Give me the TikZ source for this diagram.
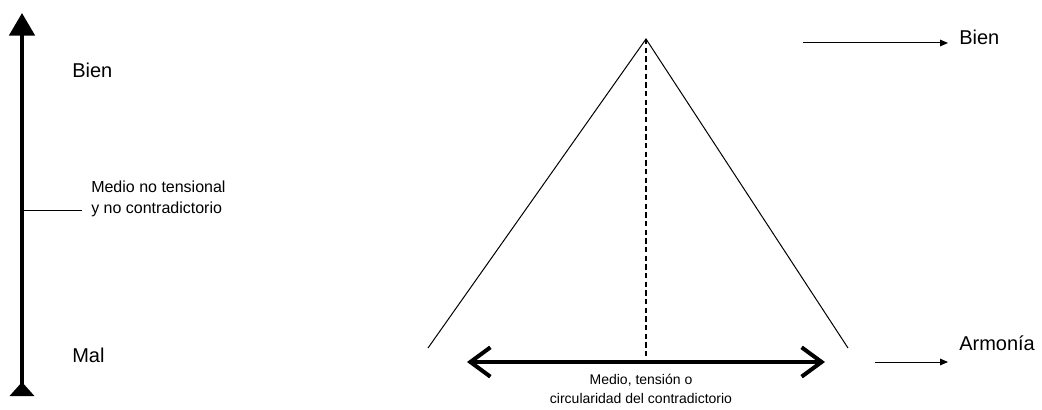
\documentclass[tikz,border=0pt]{standalone}
\usepackage{fontspec}
\setmainfont{Liberation Sans}
\usetikzlibrary{calc,arrows.meta,positioning}

\tikzset{
    big/.style={font=\fontsize{15}{18}\selectfont, inner sep=0pt},
    med/.style={font=\fontsize{12}{16}\selectfont, inner sep=0pt, align=left},
    small/.style={font=\fontsize{10.5}{14}\selectfont, inner sep=0pt, align=center},
    thinline/.style={line width=0.75pt},
    thickline/.style={line width=3pt}
}

\begin{document}
\begin{tikzpicture}[x=0.75pt,y=-0.75pt]
    \useasboundingbox (0,0) rectangle (1042,410);

    % left scale
    \coordinate (Top) at (22,13);
    \coordinate (Bot) at (22,396);
    \coordinate (Mid) at (22,210);
    \coordinate (Tick) at (82,210);
    \draw[thickline, {Triangle[reversed,length=10.5pt,width=18pt]}-{Triangle[length=17pt,width=19pt]}] (Bot) -- (Top);
    \draw[thinline] (Mid) -- (Tick);

    \node[big, anchor=west] (BienL) at (72,70) {Bien};
    \node[big, anchor=west] (Mal) at (72,355) {Mal};
    \node[med, anchor=west] (MedioL) at (91,199) {Medio no tensional\\y no contradictorio};

    % triangle
    \coordinate (A) at (646,39);
    \coordinate (L) at (428,348);
    \coordinate (R) at (848,348);
    \coordinate (C) at (646,362);
    \coordinate (E1) at (467,362);
    \coordinate (E2) at (825,362);
    \draw[thinline] (L) -- (A) -- (R);
    \draw[line width=1.6pt, dash pattern=on 4pt off 2.5pt] (A) -- (C);
    \draw[thickline, {Straight Barb[length=15pt,width=22pt]}-{Straight Barb[length=15pt,width=22pt]}] (E1) -- (E2);
    \node[small] (MedioC) at (641,389) {Medio, tensión o\\circularidad del contradictorio};

    % right side
    \foreach \n/\xa/\ya/\xt/\yt/\t in
    {BienR/803/43/959/37/Bien,
     Arm/875/362/959/343/Armonía}
    {
        \coordinate (\n-s) at (\xa,\ya);
        \coordinate (\n-e) at (948,\ya);
        \draw[thinline, -{Triangle[length=6pt,width=5pt]}] (\n-s) -- (\n-e);
        \node[big, anchor=west] (\n) at (\xt,\yt) {\t};
    };
\end{tikzpicture}
\end{document}
